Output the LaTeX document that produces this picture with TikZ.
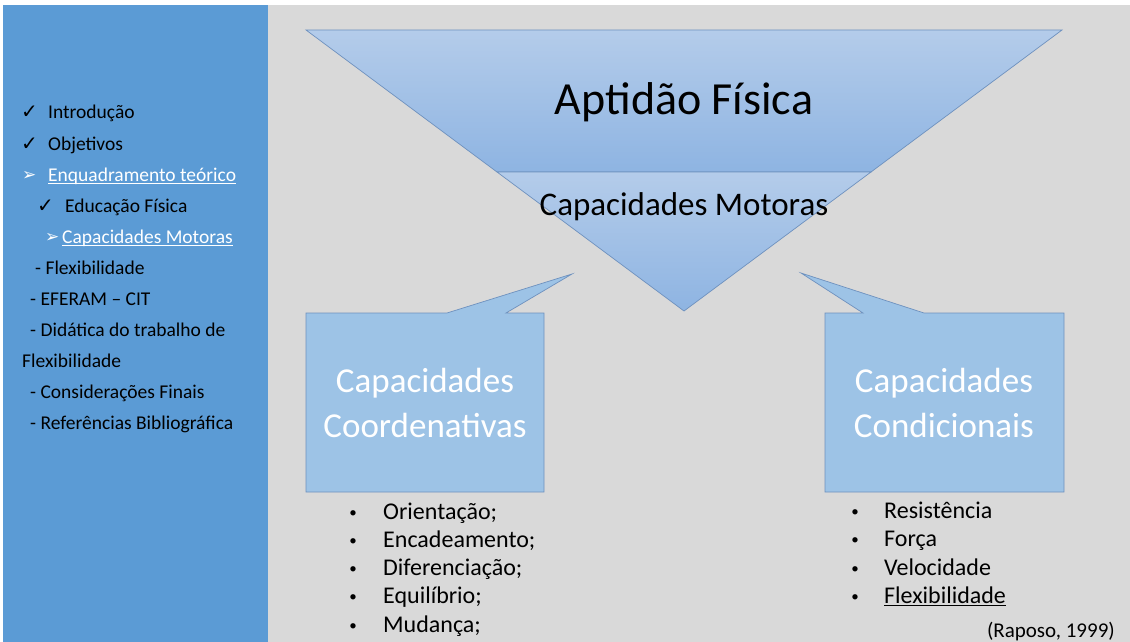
\documentclass[tikz,border=0pt]{standalone}
\usepackage{fontspec}
\setmainfont{Carlito}
\newfontfamily\symfont{DejaVu Sans}
\usepackage{xcolor}
\usepackage{tikz}
\usetikzlibrary{positioning}

\definecolor{panelblue}{RGB}{91,155,213}
\definecolor{slidegray}{RGB}{217,217,217}
\definecolor{funneltop}{RGB}{180,204,234}
\definecolor{funnelbot}{RGB}{142,180,226}
\definecolor{boxblue}{RGB}{157,195,230}
\definecolor{edgeblue}{RGB}{110,145,190}

\tikzset{
  menuitem/.style={anchor=base west, inner sep=0pt, font=\fontsize{19.5}{23}\selectfont},
  menumark/.style={anchor=base west, inner sep=0pt, font=\symfont\fontsize{20}{24}\selectfont},
  menuarrow/.style={anchor=base west, inner sep=0pt, text=white, font=\symfont\fontsize{17}{20}\selectfont},
  listitem/.style={anchor=base west, inner sep=0pt, font=\fontsize{24}{29}\selectfont},
  listbullet/.style={anchor=base, inner sep=0pt, font=\fontsize{15}{18}\selectfont},
  boxlabel/.style={anchor=base, inner sep=0pt, text=white, font=\fontsize{35}{42}\selectfont},
  shapeedge/.style={draw=edgeblue, line width=0.7pt}
}

\begin{document}
\begin{tikzpicture}[x=1pt,y=-1pt]
  \useasboundingbox (0,0) rectangle (1130,642);
  \fill[white] (0,0) rectangle (1130,642);
  \fill[slidegray] (268,5) rectangle (1130,642);
  \fill[panelblue] (3,5) rectangle (268,642);

  % funnel
  \shadedraw[top color=funneltop, bottom color=funnelbot, shapeedge]
      (306,30) -- (1062,30) -- (871,172) -- (497,172) -- cycle;
  \shadedraw[top color=funneltop, bottom color=funnelbot, shapeedge]
      (497,172) -- (871,172) -- (684,311) -- cycle;
  \node[anchor=base, inner sep=0pt, font=\fontsize{46}{55}\selectfont] (aptidao) at (684,114) {Aptidão Física};
  \node[anchor=base, inner sep=0pt, font=\fontsize{33}{40}\selectfont] (motoras) at (684,215) {Capacidades Motoras};

  % callouts
  \filldraw[fill=boxblue, shapeedge]
      (306,313) -- (447,313) -- (572,274) -- (506,313) -- (544,313) -- (544,492) -- (306,492) -- cycle;
  \filldraw[fill=boxblue, shapeedge]
      (825,313) -- (863,313) -- (801,273) -- (924,313) -- (1064,313) -- (1064,492) -- (825,492) -- cycle;
  \node[boxlabel] (coordA) at (425,392) {Capacidades};
  \node[boxlabel] (coordB) at (425,437) {Coordenativas};
  \node[boxlabel] (condA) at (944,392) {Capacidades};
  \node[boxlabel] (condB) at (944,437) {Condicionais};

  % lists
  \foreach \t [count=\i from 0] in {{Orientação;},{Encadeamento;},{Diferenciação;},{Equilíbrio;},{Mudança;}}{
    \node[listbullet] (cbul\i) at (353,517+28.25*\i) {•};
    \node[listitem] (citem\i) at (383,519+28.25*\i) {\t};
  }
  \foreach \t [count=\i from 0] in {Resistência,Força,Velocidade,Flexibilidade}{
    \node[listbullet] (rbul\i) at (855,516.5+28.25*\i) {•};
    \node[listitem] (ritem\i) at (884,518.5+28.25*\i) {\t};
  }
  \draw[line width=1.2pt] ([yshift=-2.5pt]ritem3.base west) -- ([yshift=-2.5pt]ritem3.base east);
  \node[anchor=base east, inner sep=0pt, font=\fontsize{21}{25}\selectfont] (fonte) at (1115,637) {(Raposo, 1999)};

  % menu
  \node[menumark] (mk1) at (21,118.7) {✓};
  \node[menuitem] (intro) at (48,118.7) {Introdução};
  \node[menumark] (mk2) at (21,150) {✓};
  \node[menuitem] (objet) at (48,150) {Objetivos};
  \node[menuarrow] (mk3) at (22,180) {➢};
  \node[menuitem, text=white] (enq) at (48,181) {Enquadramento teórico};
  \node[menumark] (mk4) at (37,212) {✓};
  \node[menuitem] (edfis) at (65,212) {Educação Física};
  \node[menuarrow] (mk5) at (45,242) {➢};
  \node[menuitem, text=white] (capmot) at (62,243) {Capacidades Motoras};
  \node[menuitem] (flex) at (35,274) {- Flexibilidade};
  \node[menuitem] (eferam) at (30,305) {- EFERAM – CIT};
  \node[menuitem] (didat) at (30,336) {- Didática do trabalho de};
  \node[menuitem] (didflex) at (22,367) {Flexibilidade};
  \node[menuitem] (consid) at (30,398) {- Considerações Finais};
  \node[menuitem] (refer) at (30,429) {- Referências Bibliográfica};
  \draw[white, line width=1pt] ([yshift=-2pt]enq.base west) -- ([yshift=-2pt]enq.base east);
  \draw[white, line width=1pt] ([yshift=-2pt]capmot.base west) -- ([yshift=-2pt]capmot.base east);
\end{tikzpicture}
\end{document}
